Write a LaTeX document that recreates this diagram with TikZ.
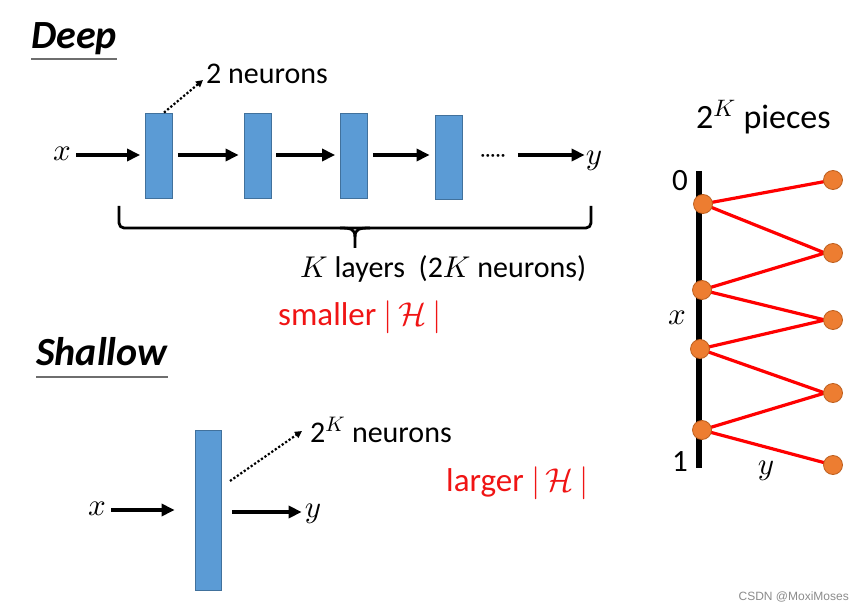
\documentclass[tikz,border=0pt]{standalone}
\usepackage{fontspec}
\setmainfont{Carlito}
\newfontfamily\wmfont{Liberation Sans}
\DeclareFontShape{OML}{cmm}{m}{it}{<->cmmi10}{}
\DeclareFontShape{OMS}{cmsy}{m}{n}{<->cmsy10}{}
\DeclareFontShape{OT1}{cmr}{m}{n}{<->cmr10}{}
\DeclareFontShape{OMX}{cmex}{m}{n}{<->cmex10}{}
\usetikzlibrary{arrows.meta}
\definecolor{boxblue}{RGB}{91,155,213}
\definecolor{boxedge}{RGB}{65,113,156}
\definecolor{dotor}{RGB}{237,125,49}
\definecolor{dotedge}{RGB}{190,95,30}
\definecolor{hred}{RGB}{240,20,20}
\definecolor{ulgray}{RGB}{110,110,110}
\newcommand{\hsetabs}{$|\mkern3mu{\mathcal{H}}\mkern3mu|$}
\tikzset{
  blk/.style={draw=boxedge,fill=boxblue,line width=0.8pt,inner sep=0pt,minimum width=27pt},
  arr/.style={line width=3.4pt,-{Triangle[length=13pt,width=12pt]}},
  dotarr/.style={dotted,line width=2.2pt,-{Triangle[length=7pt,width=7pt]}},
  txt/.style={inner sep=0pt,font=\fontsize{30}{34}\selectfont},
  mtxt/.style={inner sep=0pt,font=\fontsize{31}{34}\selectfont},
  redtxt/.style={inner sep=0pt,text=hred,font=\fontsize{33}{38}\selectfont},
  head/.style={inner sep=0pt,font=\fontsize{40}{46}\selectfont\bfseries\itshape},
  pt/.style={circle,draw=dotedge,fill=dotor,line width=0.8pt,minimum size=19pt,inner sep=0pt},
  zig/.style={draw=red,line width=3.2pt},
  brc/.style={line width=2.8pt,line join=round},
}
\begin{document}
\begin{tikzpicture}[x=1pt,y=-1pt]
\useasboundingbox[fill=white] (0,0) rectangle (865,612);
% ---------- Deep ----------
\node[head,anchor=base west] (deep) at (31,49) {Deep};
\draw[ulgray,line width=2pt] (deep.west|-0,59) -- (deep.east|-0,59);

\node[blk,minimum height=85pt] (b1) at (159,155.5) {};
\node[blk,minimum height=85pt] (b2) at (257.5,155.5) {};
\node[blk,minimum height=85pt] (b3) at (354,155.5) {};
\node[blk,minimum height=84pt] (b4) at (448.5,157) {};
\node[mtxt] (x1) at (62,154) {$x$};
\node[mtxt] (y1) at (594,161) {$y$};
\node[inner sep=0pt,font=\fontsize{20}{24}\selectfont] (dots) at (493,158) {\textperiodcentered\textperiodcentered\textperiodcentered\textperiodcentered\textperiodcentered};
\draw[arr] ([xshift=5pt]x1.east|-0,155) coordinate (xs) -- ([xshift=-5pt]b1.west|-xs);
\draw[arr] ([xshift=5pt]b1.east|-0,155) coordinate (a1) -- ([xshift=-5pt]b2.west|-a1);
\draw[arr] ([xshift=5pt]b2.east|-0,155) coordinate (a2) -- ([xshift=-5pt]b3.west|-a2);
\draw[arr] ([xshift=5pt]b3.east|-0,155) coordinate (a3) -- ([xshift=-5pt]b4.west|-a3);
\draw[arr] ([xshift=12pt]dots.east|-0,155) coordinate (a4) -- ([xshift=-1pt]y1.west|-a4);

\node[txt,anchor=base west] (n2) at (206,84) {2 neurons};
\coordinate (b1top) at ([xshift=5pt]b1.north);
\draw[dotarr] (b1top) -- (203,80);

% brace
\coordinate (brL) at (119,206);
\coordinate (brR) at (591,206);
\coordinate (brT) at (355,248);
\draw[brc,rounded corners=5pt] (brL) -- (brL|-0,228) -- (brR|-0,228) -- (brR);
\draw[brc] (340,228) .. controls (351,228) and (355,229) .. (355,237) -- (brT);
\draw[brc] (370,228) .. controls (359,228) and (355,229) .. (355,237);

\node[txt,anchor=base west] (kl) at (300,278) {$K$ layers~~(2$K$ neurons)};
\node[redtxt,anchor=base west] (sm) at (278,326) {smaller \hsetabs};

% ---------- Shallow ----------
\node[head,anchor=base west] (shallow) at (36,366) {Shallow};
\draw[ulgray,line width=2pt] (shallow.west|-0,377) -- (shallow.east|-0,377);

\node[blk,minimum height=160pt,minimum width=26pt] (sb) at (208,510) {};
\node[mtxt] (x2) at (97,509) {$x$};
\node[mtxt] (y2) at (313,514) {$y$};
\draw[arr] ([xshift=5pt]x2.east|-0,510) coordinate (s1) -- ([xshift=-20pt]sb.west|-s1);
\draw[arr] ([xshift=11pt]sb.east|-0,512) coordinate (s2) -- ([xshift=-3pt]y2.west|-s2);
\node[txt,anchor=base west] (nk) at (310,442) {2$^K$ neurons};
\coordinate (sbd) at (230,481);
\draw[dotarr] (sbd) -- (302,431);
\node[redtxt,anchor=base west] (lg) at (446,491) {larger~\hsetabs};

% ---------- pieces ----------
\node[inner sep=0pt,anchor=base west,font=\fontsize{34}{38}\selectfont] (pc) at (696,129) {2$^K$ pieces};
\coordinate (vtop) at (699,171);
\coordinate (vbot) at (699,468);
\draw[line width=6pt] (vtop) -- (vbot);
\node[mtxt] (l0) at (680,181) {0};
\node[mtxt] (l1) at (680,462) {1};
\node[mtxt] (lx) at (677,318) {$x$};
\node[mtxt] (ly) at (766,471) {$y$};

\coordinate (L1) at (703,204);
\coordinate (L2) at (702,290);
\coordinate (L3) at (700,349);
\coordinate (L4) at (702,430);
\coordinate (R1) at (833,180);
\coordinate (R2) at (833,253);
\coordinate (R3) at (833,320);
\coordinate (R4) at (833,393);
\coordinate (R5) at (833,465);
\draw[zig] (R1) -- (L1) -- ([xshift=-8pt]R2) -- (L2) -- ([xshift=-8pt]R3) -- (L3) -- ([xshift=-8pt]R4) -- (L4) -- (R5);
\foreach \p in {L1,L2,L3,L4,R1,R2,R3,R4,R5} \node[pt] (d\p) at (\p) {};

\node[inner sep=0pt,anchor=east,text=black!45,font=\wmfont\fontsize{12}{14}\selectfont] (wm) at (849,597) {CSDN @MoxiMoses};
\end{tikzpicture}
\end{document}
